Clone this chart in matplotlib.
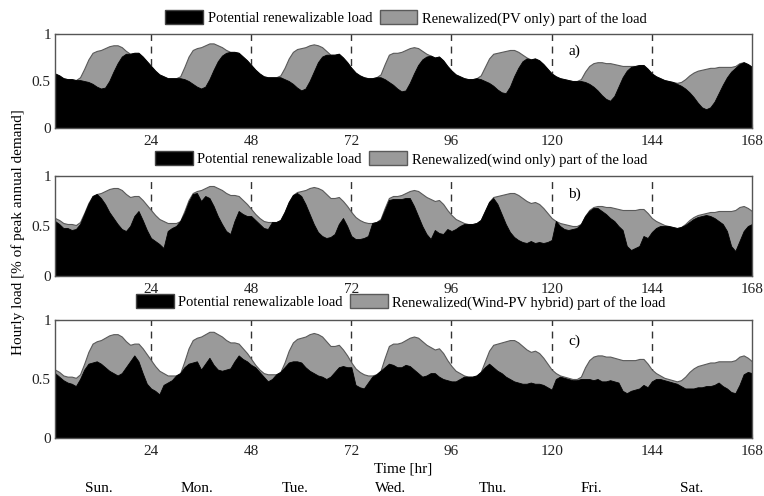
import numpy as np
import matplotlib
matplotlib.use("Agg")
import matplotlib.pyplot as plt
from matplotlib.patches import Patch

plt.rcParams['font.family'] = ['Liberation Serif', 'DejaVu Serif']

hours = np.arange(1, 169)

# total hourly load (envelope), fraction of peak annual demand
total_load = [
    # Sun
    0.58, 0.56, 0.53, 0.52, 0.52, 0.51, 0.54, 0.63, 0.73, 0.80, 0.82, 0.83,
    0.85, 0.87, 0.88, 0.88, 0.86, 0.82, 0.79, 0.80, 0.80, 0.76, 0.71, 0.66,
    # Mon
    0.61, 0.57, 0.55, 0.53, 0.53, 0.53, 0.55, 0.65, 0.76, 0.83, 0.85, 0.86,
    0.88, 0.90, 0.90, 0.88, 0.86, 0.83, 0.81, 0.81, 0.80, 0.76, 0.72, 0.67,
    # Tue
    0.62, 0.58, 0.55, 0.54, 0.54, 0.54, 0.56, 0.64, 0.74, 0.81, 0.84, 0.85,
    0.86, 0.88, 0.89, 0.88, 0.86, 0.82, 0.78, 0.78, 0.79, 0.75, 0.70, 0.64,
    # Wed
    0.59, 0.56, 0.54, 0.53, 0.53, 0.54, 0.57, 0.68, 0.78, 0.80, 0.80, 0.81,
    0.83, 0.85, 0.86, 0.85, 0.82, 0.79, 0.77, 0.75, 0.76, 0.72, 0.66, 0.61,
    # Thu
    0.57, 0.55, 0.53, 0.52, 0.52, 0.53, 0.56, 0.65, 0.74, 0.79, 0.80, 0.81,
    0.82, 0.83, 0.83, 0.81, 0.78, 0.75, 0.73, 0.74, 0.72, 0.68, 0.63, 0.58,
    # Fri
    0.55, 0.53, 0.52, 0.51, 0.50, 0.50, 0.52, 0.60, 0.66, 0.69, 0.70, 0.70,
    0.69, 0.69, 0.68, 0.67, 0.66, 0.66, 0.66, 0.66, 0.67, 0.67, 0.63, 0.58,
    # Sat
    0.55, 0.53, 0.51, 0.50, 0.49, 0.48, 0.49, 0.52, 0.56, 0.59, 0.61, 0.62,
    0.63, 0.64, 0.64, 0.65, 0.65, 0.65, 0.65, 0.66, 0.69, 0.70, 0.68, 0.65,
]

# potential renewalizable load remaining - PV only
remaining_pv = [
    0.58, 0.56, 0.53, 0.52, 0.52, 0.51, 0.51, 0.50, 0.49, 0.47, 0.44, 0.42,
    0.43, 0.50, 0.60, 0.69, 0.76, 0.79, 0.79, 0.80, 0.80, 0.76, 0.71, 0.66,
    0.61, 0.57, 0.55, 0.53, 0.53, 0.53, 0.53, 0.52, 0.50, 0.47, 0.44, 0.42,
    0.44, 0.52, 0.62, 0.71, 0.77, 0.80, 0.81, 0.81, 0.80, 0.76, 0.72, 0.67,
    0.62, 0.58, 0.55, 0.54, 0.54, 0.54, 0.54, 0.52, 0.50, 0.47, 0.43, 0.40,
    0.42, 0.50, 0.60, 0.70, 0.76, 0.78, 0.78, 0.78, 0.79, 0.75, 0.70, 0.64,
    0.59, 0.56, 0.54, 0.53, 0.53, 0.54, 0.54, 0.52, 0.49, 0.46, 0.42, 0.39,
    0.40, 0.48, 0.58, 0.67, 0.73, 0.76, 0.77, 0.75, 0.76, 0.72, 0.66, 0.61,
    0.57, 0.55, 0.53, 0.52, 0.52, 0.53, 0.52, 0.50, 0.48, 0.45, 0.41, 0.38,
    0.37, 0.44, 0.55, 0.64, 0.71, 0.74, 0.73, 0.74, 0.72, 0.68, 0.63, 0.58,
    0.55, 0.53, 0.52, 0.51, 0.50, 0.50, 0.50, 0.49, 0.47, 0.44, 0.40, 0.35,
    0.31, 0.29, 0.34, 0.44, 0.54, 0.61, 0.65, 0.66, 0.67, 0.67, 0.63, 0.58,
    0.55, 0.53, 0.51, 0.50, 0.49, 0.47, 0.45, 0.42, 0.38, 0.33, 0.27, 0.22,
    0.20, 0.22, 0.28, 0.37, 0.46, 0.54, 0.60, 0.64, 0.68, 0.70, 0.68, 0.65,
]

# potential renewalizable load remaining - wind only
remaining_wind = [
    0.55, 0.52, 0.48, 0.48, 0.46, 0.47, 0.52, 0.62, 0.72, 0.80, 0.82, 0.78,
    0.72, 0.64, 0.58, 0.52, 0.47, 0.45, 0.50, 0.60, 0.65, 0.56, 0.46, 0.38,
    0.35, 0.32, 0.28, 0.45, 0.48, 0.50, 0.55, 0.63, 0.74, 0.82, 0.83, 0.75,
    0.80, 0.78, 0.70, 0.60, 0.52, 0.45, 0.42, 0.55, 0.65, 0.62, 0.60, 0.60,
    0.56, 0.52, 0.48, 0.47, 0.54, 0.54, 0.56, 0.64, 0.74, 0.81, 0.83, 0.80,
    0.72, 0.62, 0.52, 0.44, 0.40, 0.38, 0.39, 0.42, 0.52, 0.58, 0.50, 0.40,
    0.37, 0.37, 0.38, 0.40, 0.53, 0.54, 0.56, 0.66, 0.76, 0.77, 0.77, 0.77,
    0.78, 0.78, 0.70, 0.60, 0.50, 0.42, 0.37, 0.46, 0.43, 0.42, 0.47, 0.45,
    0.47, 0.50, 0.52, 0.52, 0.52, 0.53, 0.56, 0.65, 0.74, 0.78, 0.72, 0.62,
    0.52, 0.44, 0.39, 0.36, 0.34, 0.33, 0.35, 0.33, 0.34, 0.33, 0.34, 0.36,
    0.55, 0.50, 0.47, 0.46, 0.47, 0.48, 0.52, 0.60, 0.65, 0.68, 0.68, 0.65,
    0.62, 0.58, 0.55, 0.50, 0.46, 0.30, 0.26, 0.28, 0.30, 0.40, 0.38, 0.44,
    0.48, 0.50, 0.50, 0.50, 0.49, 0.48, 0.49, 0.51, 0.54, 0.57, 0.59, 0.60,
    0.61, 0.60, 0.58, 0.55, 0.52, 0.45, 0.30, 0.25, 0.35, 0.45, 0.50, 0.52,
]

# potential renewalizable load remaining - wind-PV hybrid
remaining_hybrid = [
    0.55, 0.52, 0.49, 0.47, 0.46, 0.44, 0.50, 0.58, 0.63, 0.64, 0.65, 0.63,
    0.60, 0.57, 0.55, 0.53, 0.55, 0.60, 0.65, 0.70, 0.65, 0.55, 0.46, 0.42,
    0.40, 0.37, 0.45, 0.47, 0.49, 0.53, 0.55, 0.60, 0.63, 0.64, 0.65, 0.58,
    0.63, 0.68, 0.62, 0.58, 0.57, 0.58, 0.59, 0.65, 0.70, 0.67, 0.65, 0.62,
    0.60, 0.56, 0.52, 0.48, 0.50, 0.54, 0.56, 0.60, 0.64, 0.65, 0.65, 0.64,
    0.60, 0.57, 0.55, 0.53, 0.52, 0.50, 0.52, 0.56, 0.60, 0.61, 0.60, 0.60,
    0.45, 0.43, 0.42, 0.47, 0.52, 0.54, 0.57, 0.60, 0.63, 0.62, 0.60, 0.60,
    0.62, 0.61, 0.58, 0.55, 0.52, 0.53, 0.55, 0.55, 0.52, 0.50, 0.49, 0.48,
    0.48, 0.50, 0.52, 0.52, 0.52, 0.53, 0.56, 0.60, 0.63, 0.60, 0.57, 0.55,
    0.52, 0.50, 0.48, 0.47, 0.46, 0.46, 0.47, 0.46, 0.46, 0.45, 0.43, 0.41,
    0.50, 0.52, 0.51, 0.50, 0.49, 0.49, 0.50, 0.50, 0.50, 0.49, 0.50, 0.48,
    0.48, 0.49, 0.48, 0.47, 0.40, 0.38, 0.40, 0.41, 0.42, 0.45, 0.43, 0.48,
    0.50, 0.50, 0.49, 0.48, 0.47, 0.46, 0.44, 0.42, 0.42, 0.42, 0.43, 0.43,
    0.44, 0.44, 0.45, 0.47, 0.44, 0.42, 0.39, 0.38, 0.45, 0.54, 0.56, 0.55,
]

panel_labels = ["a)", "b)", "c)"]
gray_legend = ["Renewalized(PV only) part of the load",
               "Renewalized(wind only) part of the load",
               "Renewalized(Wind-PV hybrid) part of the load"]
black_legend = "Potential renewalizable load"
xticks = [24, 48, 72, 96, 120, 144, 168]
yticks = [0, 0.5, 1]
ytick_labels = ["0", "0.5", "1"]
day_names = ["Sun.", "Mon.", "Tue.", "Wed.", "Thu.", "Fri.", "Sat."]
day_centers = [11.5, 35, 58.5, 81.5, 106, 129.5, 153.5]

W, H = 764, 496
fig = plt.figure(figsize=(W / 100, H / 100), dpi=100)

# axes boxes in pixels: (left, top, right, bottom)
boxes = [(55, 34, 752, 128), (55, 176, 752, 276), (55, 320, 752, 438)]
legend_y = [18, 159, 302]
legend_x = [406, 401, 401]

GRAY = "#9a9a9a"
EDGE = "#5a5a5a"
series = [remaining_pv, remaining_wind, remaining_hybrid]

for i, (l, t, r, b) in enumerate(boxes):
    ax = fig.add_axes([l / W, 1 - b / H, (r - l) / W, (b - t) / H])
    ax.fill_between(hours, 0, total_load, color=GRAY, edgecolor=EDGE,
                    linewidth=0.8, zorder=2)
    ax.fill_between(hours, 0, series[i], color="black", edgecolor="black",
                    linewidth=0.6, zorder=3)
    for d in xticks[:-1]:
        ax.axvline(d, color="#333333", linestyle=(0, (5, 4)), linewidth=1.0,
                   zorder=1)
    ax.set_xlim(1, 168)
    ax.set_ylim(0, 1)
    ax.set_xticks(xticks)
    ax.set_xticklabels([str(v) for v in xticks])
    ax.set_yticks(yticks)
    ax.set_yticklabels(ytick_labels)
    ax.tick_params(direction="in", length=3, labelsize=11, pad=3,
                   colors="#222222")
    ax.tick_params(axis="x", pad=5)
    for s in ax.spines.values():
        s.set_color("#555555")
        s.set_linewidth(1.0)
        s.set_zorder(5)
    ax.text(125.5, 0.82, panel_labels[i], fontsize=11, ha="center",
            va="center", zorder=6)
    handles = [Patch(facecolor="black", edgecolor="#444444", label=black_legend),
               Patch(facecolor=GRAY, edgecolor=EDGE, label=gray_legend[i])]
    fig.legend(handles=handles, loc="center",
               bbox_to_anchor=(legend_x[i] / W, 1 - legend_y[i] / H),
               ncol=2, frameon=False, fontsize=10.5, handlelength=2.6,
               handleheight=1.1, handletextpad=0.3, columnspacing=0.5,
               borderaxespad=0, borderpad=0)
    if i == 2:
        ax.set_xlabel("Time [hr]", fontsize=11, labelpad=3)
        for name, c in zip(day_names, day_centers):
            ax.text(c, -0.43, name, fontsize=11, ha="center", va="center",
                    transform=ax.transData, clip_on=False)

fig.text(18 / W, 1 - 232 / H, "Hourly load [% of peak annual demand]",
         rotation=90, ha="center", va="center", fontsize=11)

fig.savefig("out.png", dpi=100)
